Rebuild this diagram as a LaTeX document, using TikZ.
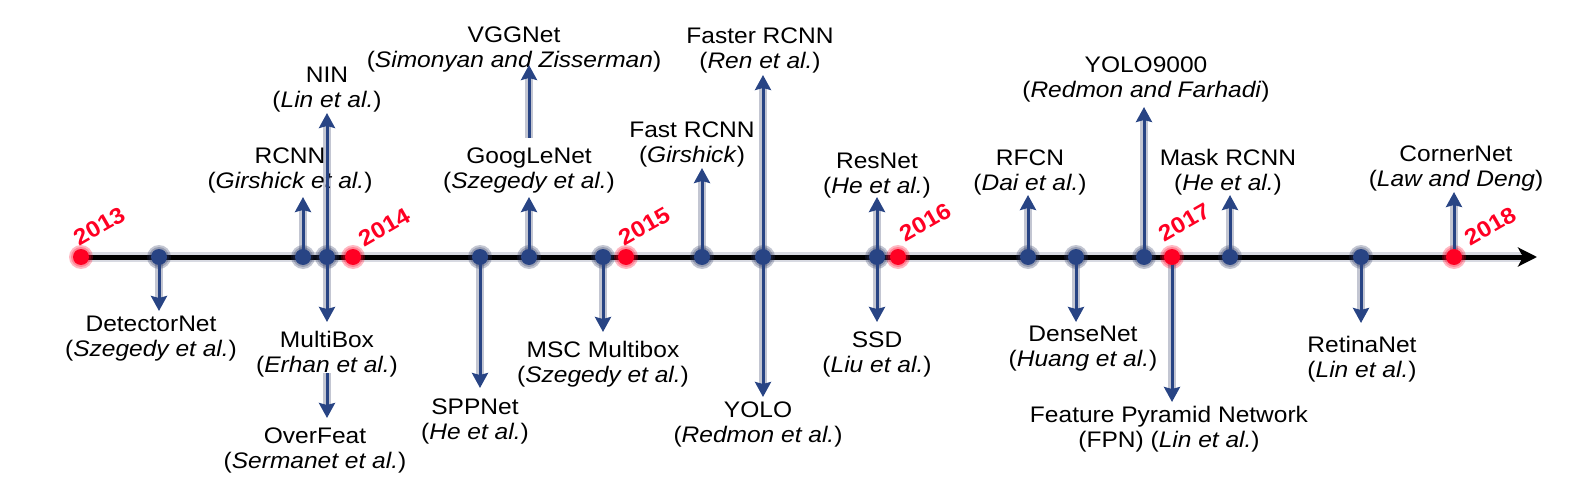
\documentclass[tikz,border=0pt]{standalone}
\usepackage{fontspec}
\setmainfont{Liberation Sans}[FakeStretch=1.09]
\usetikzlibrary{arrows.meta}
\definecolor{tlblue}{RGB}{40,68,132}
\definecolor{tlred}{RGB}{255,0,35}
\definecolor{glow}{RGB}{40,52,95}
\newcommand\tlarrow[2]{%
  \draw[aglow] (#1) -- (#2);
  \draw[arr] (#1) -- (#2);}
\begin{document}
\begin{tikzpicture}[x=1pt,y=-1pt,
  lbl/.style={font=\fontsize{22.5}{25}\selectfont, align=center, inner sep=0pt, text=black},
  up/.style={lbl, anchor=south},
  dn/.style={lbl, anchor=north},
  yr/.style={font=\fontsize{22.5}{22.5}\selectfont\bfseries, text=tlred, rotate=30, anchor=south west, inner sep=0pt},
  bdot/.style={circle, fill=tlblue, minimum size=16pt, inner sep=0pt},
  rdot/.style={circle, fill=tlred, minimum size=16pt, inner sep=0pt},
  arr/.style={draw=tlblue, line width=3pt, -{Stealth[length=15pt,width=16pt,inset=2pt]}},
  aglow/.style={draw=glow, opacity=0.28, line width=8pt, shorten >=12pt},
  bhalo/.style={fill=glow, opacity=0.28},
  rhalo/.style={fill=tlred, opacity=0.28},
]
\useasboundingbox (0,0) rectangle (1587,492);

% ---- dot positions on the axis
\coordinate (c13) at (81,257);
\coordinate (cDet) at (159,257);
\coordinate (cRCNN) at (303,257);
\coordinate (cNIN) at (327,257);
\coordinate (c14) at (353,257);
\coordinate (cSPP) at (480,257);
\coordinate (cGoog) at (529,257);
\coordinate (cMSC) at (603,257);
\coordinate (c15) at (626,257);
\coordinate (cFast) at (702,257);
\coordinate (cFaster) at (763,257);
\coordinate (cRes) at (877,257);
\coordinate (c16) at (898,257);
\coordinate (cRFCN) at (1028,257);
\coordinate (cDense) at (1076,257);
\coordinate (cYk) at (1144,257);
\coordinate (c17) at (1172,257);
\coordinate (cMask) at (1230,257);
\coordinate (cRetina) at (1361,257);
\coordinate (c18) at (1454,257);
\coordinate (axend) at (1537,257);

% ---- arrow tips / free ends
\coordinate (tDet) at (159,311);
\coordinate (tRCNN) at (303,197);
\coordinate (tNIN) at (327,113);
\coordinate (tMulti) at (327,322);
\coordinate (sOver) at (327,373);
\coordinate (tOver) at (327,418);
\coordinate (tSPP) at (480,388);
\coordinate (tGoog) at (529,197);
\coordinate (sVGG) at (529,138);
\coordinate (tVGG) at (529,65);
\coordinate (tMSC) at (603,332);
\coordinate (tFast) at (702,168);
\coordinate (tFaster) at (763,75);
\coordinate (tYOLO) at (763,397);
\coordinate (tRes) at (877,197);
\coordinate (tSSD) at (877,322);
\coordinate (tRFCN) at (1028,195);
\coordinate (tDense) at (1076,322);
\coordinate (tYk) at (1144,107);
\coordinate (tFPN) at (1172,402);
\coordinate (tMask) at (1230,195);
\coordinate (tRetina) at (1361,323);
\coordinate (tCorner) at (1454,192);

% ---- labels above the axis
\node[up] (lNIN) at (327,112) {NIN\\(\textit{Lin et al.})};
\node[up] (lRCNN) at (290,193) {RCNN\\(\textit{Girshick et al.})};
\node[up] (lGoog) at (529,193) {GoogLeNet\\(\textit{Szegedy et al.})};
\node[up] (lVGG) at (514,72) {VGGNet\\(\textit{Simonyan and Zisserman})};
\node[up] (lFast) at (692,167) {Fast RCNN\\(\textit{Girshick})};
\node[up] (lFaster) at (760,73) {Faster RCNN\\(\textit{Ren et al.})};
\node[up] (lRes) at (877,198) {ResNet\\(\textit{He et al.})};
\node[up] (lRFCN) at (1030,195) {RFCN\\(\textit{Dai et al.})};
\node[up] (lYk) at (1146,102) {YOLO9000\\(\textit{Redmon and Farhadi})};
\node[up] (lMask) at (1228,195) {Mask RCNN\\(\textit{He et al.})};
\node[up] (lCorner) at (1456,191) {CornerNet\\(\textit{Law and Deng})};

% ---- labels below the axis
\node[dn] (lDet) at (151,316) {DetectorNet\\(\textit{Szegedy et al.})};
\node[dn] (lMulti) at (327,331) {MultiBox\\(\textit{Erhan et al.})};
\node[dn] (lOver) at (315,428) {OverFeat\\(\textit{Sermanet et al.})};
\node[dn] (lSPP) at (475,399) {SPPNet\\(\textit{He et al.})};
\node[dn] (lMSC) at (603,341) {MSC Multibox\\(\textit{Szegedy et al.})};
\node[dn] (lYOLO) at (758,402) {YOLO\\(\textit{Redmon et al.})};
\node[dn] (lSSD) at (877,332) {SSD\\(\textit{Liu et al.})};
\node[dn] (lDense) at (1083,326) {DenseNet\\(\textit{Huang et al.})};
\node[dn] (lFPN) at (1169,406) {Feature Pyramid Network\\(FPN) (\textit{Lin et al.})};
\node[dn] (lRetina) at (1362,336) {RetinaNet\\(\textit{Lin et al.})};

% ---- year labels
\node[yr] (y13) at (80,247) {2013};
\node[yr] (y14) at (365,248) {2014};
\node[yr] (y15) at (625,247) {2015};
\node[yr] (y16) at (906,243) {2016};
\node[yr] (y17) at (1165,243) {2017};
\node[yr] (y18) at (1471,247) {2018};

% ---- axis
\draw[draw=glow, opacity=0.18, line width=10pt, shorten >=16pt] (c13) -- (axend);
\draw[line width=5pt, -{Stealth[length=19pt,width=19pt,inset=5pt]}] (c13) -- (axend);

% ---- dot halos
\foreach \c in {cDet,cRCNN,cNIN,cSPP,cGoog,cMSC,cFast,cFaster,cRes,cRFCN,cDense,cYk,cMask,cRetina}{
  \fill[bhalo] (\c) circle[radius=12pt];
  \fill[bhalo] (\c) circle[radius=10pt];
}
\foreach \c in {c13,c14,c15,c16,c17,c18}{
  \fill[rhalo] (\c) circle[radius=12pt];
  \fill[rhalo] (\c) circle[radius=10pt];
}

% ---- arrows
\tlarrow{cDet}{tDet}
\tlarrow{cRCNN}{tRCNN}
\tlarrow{cNIN}{tNIN}
\tlarrow{cNIN}{tMulti}
\tlarrow{sOver}{tOver}
\tlarrow{cSPP}{tSPP}
\tlarrow{cGoog}{tGoog}
\tlarrow{sVGG}{tVGG}
\tlarrow{cMSC}{tMSC}
\tlarrow{cFast}{tFast}
\tlarrow{cFaster}{tFaster}
\tlarrow{cFaster}{tYOLO}
\tlarrow{cRes}{tRes}
\tlarrow{cRes}{tSSD}
\tlarrow{cRFCN}{tRFCN}
\tlarrow{cDense}{tDense}
\tlarrow{cYk}{tYk}
\tlarrow{c17}{tFPN}
\tlarrow{cMask}{tMask}
\tlarrow{cRetina}{tRetina}
\tlarrow{c18}{tCorner}

% ---- dots
\foreach \c in {cDet,cRCNN,cNIN,cSPP,cGoog,cMSC,cFast,cFaster,cRes,cRFCN,cDense,cYk,cMask,cRetina}{
  \node[bdot] (d\c) at (\c) {};
}
\foreach \c in {c13,c14,c15,c16,c17,c18}{
  \node[rdot] (d\c) at (\c) {};
}
\end{tikzpicture}
\end{document}
